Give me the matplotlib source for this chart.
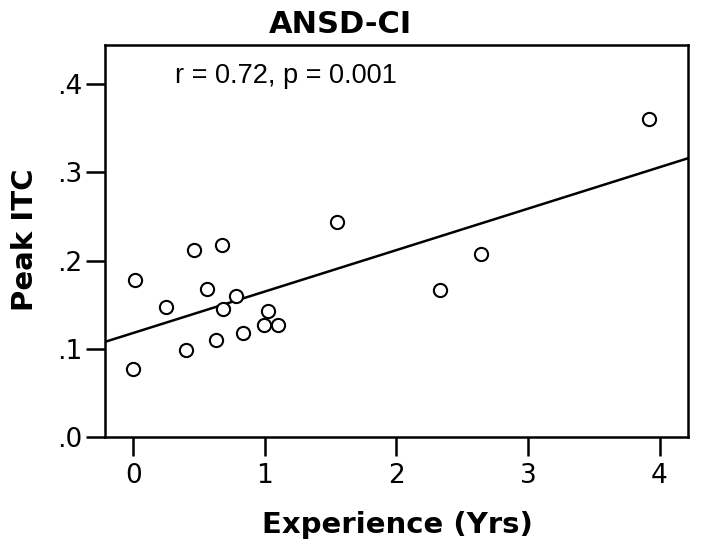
import numpy as np
import matplotlib
matplotlib.use("Agg")
import matplotlib.pyplot as plt
from matplotlib.ticker import FuncFormatter

# data
experience = [0.00, 0.01, 0.25, 0.40, 0.46, 0.56, 0.63, 0.67, 0.68, 0.78,
              0.83, 0.99, 1.02, 1.10, 1.55, 2.33, 2.64, 3.92]
peak_itc = [0.077, 0.178, 0.147, 0.099, 0.212, 0.168, 0.110, 0.218, 0.145, 0.160,
            0.118, 0.127, 0.143, 0.127, 0.244, 0.167, 0.207, 0.361]
x_ticks = [0, 1, 2, 3, 4]
y_ticks = [0.0, 0.1, 0.2, 0.3, 0.4]
title = "ANSD-CI"
stats_text = "r = 0.72, p = 0.001"

fig = plt.figure(figsize=(7.02, 5.52), dpi=100)
ax = fig.add_axes([105 / 702, 1 - 437 / 552, 583 / 702, 392 / 552])

x = np.array(experience)
y = np.array(peak_itc)
ax.plot(x, y, 'o', mfc='white', mec='black', ms=9.5, mew=1.5, zorder=3)

# least squares fit line across the whole axis
xlim = (-0.2167, 4.2167)
slope, icpt = np.polyfit(x, y, 1)
xx = np.array(xlim)
ax.plot(xx, icpt + slope * xx, color='black', lw=1.8, zorder=2)

ax.set_xlim(*xlim)
ax.set_ylim(0, 0.4444)
ax.set_xticks(x_ticks)
ax.set_yticks(y_ticks)
ax.yaxis.set_major_formatter(FuncFormatter(lambda v, p: ('%.1f' % v)[1:]))

for s in ax.spines.values():
    s.set_linewidth(1.8)
ax.tick_params(axis='both', length=14, width=1.8, labelsize=19, color='black')
ax.tick_params(axis='x', pad=5)
ax.tick_params(axis='y', pad=2)

fig.text(340 / 702, 1 - 33 / 552, title, ha='center', va='baseline',
         fontsize=22, fontweight='bold')
fig.text(175 / 702, 1 - 83 / 552, stats_text, ha='left', va='baseline',
         fontsize=19.5, family='Liberation Sans')
fig.text(397 / 702, 1 - 533 / 552, "Experience (Yrs)", ha='center', va='baseline',
         fontsize=21, fontweight='bold')
fig.text(25 / 702, 1 - 240 / 552, "Peak ITC", ha='center', va='center',
         rotation=90, fontsize=21, fontweight='bold')

fig.savefig('out.png', dpi=100)
